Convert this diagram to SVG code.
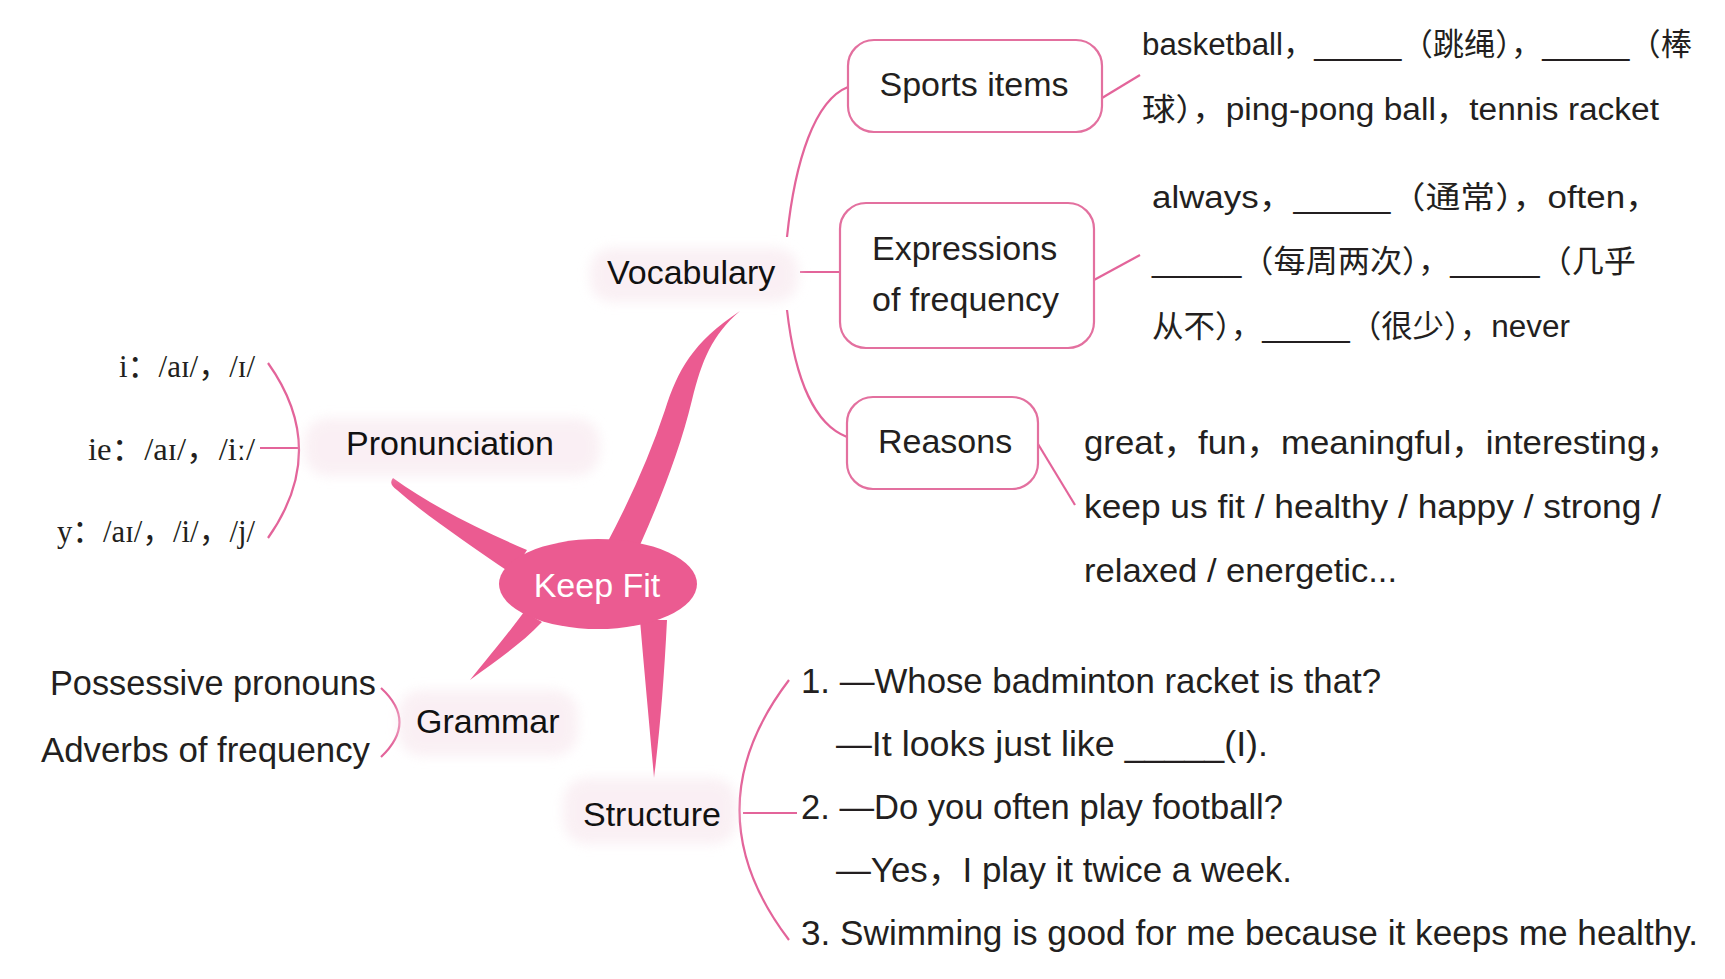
<svg xmlns="http://www.w3.org/2000/svg" width="1725" height="979" viewBox="0 0 1725 979">
<defs>
<style>
.t{font-family:"Liberation Sans","Noto Sans CJK SC",sans-serif;fill:#231f20}
.b33{font-size:33px}
.b35{font-size:35px}
.lbl{font-family:"Liberation Sans",sans-serif;font-size:34px;fill:#111}
.box{fill:#fff;stroke:#e3709f;stroke-width:2.2}
.ln{fill:none;stroke:#e3649a;stroke-width:2.2}
.br{fill:#eb5b91}
.ser{font-family:"Liberation Serif","DejaVu Serif","Noto Sans CJK SC",serif;font-size:32px;fill:#231f20}
.blob{fill:#f7e6ed;opacity:0.6;filter:url(#soft)}
</style>
<filter id="soft" x="-20%" y="-50%" width="140%" height="200%"><feGaussianBlur stdDeviation="6"/></filter>
</defs>
<rect width="1725" height="979" fill="#fff"/>

<g id="branches">
<path class="br" d="M606,545 C630,500 650,455 665,410 C678,370 692,343 740,311 C712,335 702,360 692,400 C680,450 660,500 640,545 Z"/>
<path class="br" d="M393,478 C430,505 480,530 527,550 L512,574 C470,545 425,515 397,490 Q388,484 393,478 Z"/>
<path class="br" d="M524,612 C507,635 490,655 470,680 C497,660 520,645 542,622 Z"/>
<path class="br" d="M640,620 C645,680 650,730 654,778 C660,730 664,680 667,620 Z"/>
</g>

<g id="connectors">
<path class="ln" d="M787,237 C795,160 815,100 848,87"/>
<path class="ln" d="M800,272 L840,272"/>
<path class="ln" d="M787,310 C795,380 815,425 847,437"/>
<path class="ln" d="M1102,98 L1140,75"/>
<path class="ln" d="M1094,280 L1140,255"/>
<path class="ln" d="M1038,444 L1075,505"/>
<path class="ln" d="M268,363 Q330,450 268,538"/>
<path class="ln" d="M260,448 L299,448"/>
<path class="ln" d="M381,688 Q418,722 381,757"/>
<path class="ln" d="M789,680 Q690,810 789,940"/>
<path class="ln" d="M743,813 L797,813"/>
</g>

<g id="keepfit">
<ellipse cx="598" cy="584" rx="99" ry="45" fill="#eb5b91"/>
<text x="597" y="597" text-anchor="middle" font-family="Liberation Sans, sans-serif" font-size="34" fill="#fff">Keep Fit</text>
</g>

<g id="vocabulary">
<rect class="blob" x="590" y="248" width="208" height="54" rx="22"/>
<text class="lbl" x="607" y="284">Vocabulary</text>
</g>

<g id="pronunciation">
<rect class="blob" x="304" y="418" width="296" height="58" rx="24"/>
<text class="lbl" x="346" y="455">Pronunciation</text>
</g>

<g id="grammar">
<rect class="blob" x="398" y="690" width="180" height="66" rx="24"/>
<text class="lbl" x="416" y="733">Grammar</text>
</g>

<g id="structure">
<rect class="blob" x="563" y="778" width="174" height="66" rx="24"/>
<text class="lbl" x="583" y="826">Structure</text>
</g>

<g id="sports-items">
<rect class="box" x="848" y="40" width="254" height="92" rx="26"/>
<text class="t" font-size="34" x="974" y="96" text-anchor="middle">Sports items</text>
</g>

<g id="expressions">
<rect class="box" x="840" y="203" width="254" height="145" rx="26"/>
<text class="t" font-size="34" x="872" y="260">Expressions</text>
<text class="t" font-size="34" x="872" y="311">of frequency</text>
</g>

<g id="reasons">
<rect class="box" x="847" y="397" width="191" height="92" rx="26"/>
<text class="t" font-size="34" x="878" y="453">Reasons</text>
</g>

<g id="sports-text">
<text class="t" font-size="31" x="1142" y="55" textLength="550" lengthAdjust="spacingAndGlyphs">basketball，_____（跳绳），_____（棒</text>
<text class="t" font-size="31" x="1142" y="120" textLength="517" lengthAdjust="spacingAndGlyphs">球），ping-pong ball，tennis racket</text>
</g>

<g id="expressions-text">
<text class="t" font-size="31" x="1152" y="208" textLength="508" lengthAdjust="spacingAndGlyphs">always，_____（通常），often，</text>
<text class="t" font-size="31" x="1152" y="272" textLength="484" lengthAdjust="spacingAndGlyphs">_____（每周两次），_____（几乎</text>
<text class="t" font-size="31" x="1152" y="337" textLength="418" lengthAdjust="spacingAndGlyphs">从不），_____（很少），never</text>
</g>

<g id="reasons-text">
<text class="t b33" x="1084" y="454" textLength="597" lengthAdjust="spacingAndGlyphs">great，fun，meaningful，interesting，</text>
<text class="t b33" x="1084" y="518" textLength="577" lengthAdjust="spacingAndGlyphs">keep us fit / healthy / happy / strong /</text>
<text class="t b33" x="1084" y="582" textLength="313" lengthAdjust="spacingAndGlyphs">relaxed / energetic...</text>
</g>

<g id="pronunciation-text">
<text class="ser" x="119" y="377" textLength="136" lengthAdjust="spacingAndGlyphs">i：/aɪ/，/ɪ/</text>
<text class="ser" x="88" y="460" textLength="167" lengthAdjust="spacingAndGlyphs">ie：/aɪ/，/iː/</text>
<text class="ser" x="57" y="542" textLength="198" lengthAdjust="spacingAndGlyphs">y：/aɪ/，/i/，/j/</text>
</g>

<g id="grammar-text">
<text class="t b35" x="50" y="695" textLength="326" lengthAdjust="spacingAndGlyphs">Possessive pronouns</text>
<text class="t b35" x="41" y="762" textLength="329" lengthAdjust="spacingAndGlyphs">Adverbs of frequency</text>
</g>

<g id="structure-text">
<text class="t b35" x="801" y="693" textLength="580" lengthAdjust="spacingAndGlyphs">1. —Whose badminton racket is that?</text>
<text class="t b35" x="836" y="756" textLength="432" lengthAdjust="spacingAndGlyphs">—It looks just like _____(I).</text>
<text class="t b35" x="801" y="819" textLength="482" lengthAdjust="spacingAndGlyphs">2. —Do you often play football?</text>
<text class="t b35" x="836" y="882" textLength="456" lengthAdjust="spacingAndGlyphs">—Yes，I play it twice a week.</text>
<text class="t b35" x="801" y="945" textLength="897" lengthAdjust="spacingAndGlyphs">3. Swimming is good for me because it keeps me healthy.</text>
</g>
</svg>
